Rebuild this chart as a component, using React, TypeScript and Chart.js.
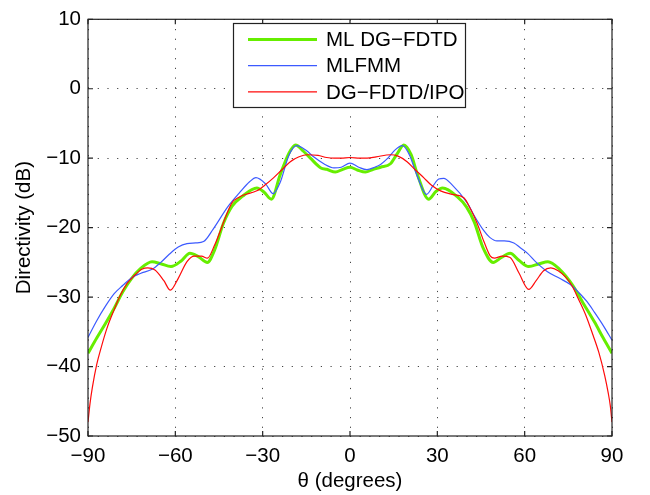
import React, { useEffect, useRef } from "react";
import { Chart, registerables } from "chart.js";

Chart.register(...registerables);

// ---- data ----
const seriesNames = ["ML DG\u2212FDTD", "MLFMM", "DG\u2212FDTD/IPO"];

const greenTheta = [-90,-87,-84,-81,-78,-75,-72,-68,-65,-61.5,-58,-55,-52,-49,-46.5,-43.5,-40.5,-37,-32,-29.5,-27,-24,-21,-18.7,-16,-13.6,-10,-8,-5,-2.5,0,2.5,5.3,8,10.5,13.9,16,18.5,21,23.2,27,29.5,31.8,37,40,42.7,45.8,49.2,52,55,58,61.4,65,68,72,76.5,80,84,87,90];
const greenDir = [-38.1,-35.9,-33.8,-31.6,-29.2,-27.3,-25.9,-24.9,-25.2,-25.6,-24.8,-23.7,-24.2,-25.0,-23.2,-19.4,-16.9,-15.5,-14.3,-14.9,-15.9,-12.4,-9.3,-8.1,-9.0,-10.0,-11.4,-11.6,-12.0,-11.6,-11.3,-11.7,-12.0,-11.6,-11.3,-10.8,-9.5,-8.1,-9.5,-12.4,-15.9,-14.8,-14.3,-15.6,-17.0,-19.2,-23.0,-25.0,-24.3,-23.7,-24.7,-25.6,-25.2,-24.9,-26.0,-28.3,-30.8,-33.6,-35.9,-38.1];

const blueTheta = [-90,-87,-84,-81,-78,-75,-72,-68,-65,-62,-59,-56,-53,-50.3,-47,-42,-38,-34.5,-32.3,-29,-26.4,-24,-21,-18.3,-15,-12.5,-9,-5.5,-3,0,3,5.8,8.5,10.5,13,15.5,18,20.5,22.5,26.3,28.5,30.5,32.2,35,40.2,43,45.9,48,50.5,53,56.3,58.5,61,64,67.7,72,75.7,78.5,81.5,84,87,90];
const blueDir = [-35.8,-33.4,-31.3,-29.5,-28.3,-27.2,-26.6,-26.0,-25.0,-23.8,-22.8,-22.3,-22.2,-22.0,-20.2,-17.0,-15.0,-13.4,-12.8,-13.7,-15.1,-13.5,-9.6,-8.2,-8.9,-9.8,-10.8,-11.4,-11.3,-10.7,-11.3,-11.65,-11.3,-10.9,-10.0,-8.8,-8.2,-9.6,-11.9,-15.2,-14.0,-13.0,-12.9,-13.8,-16.4,-18.5,-20.4,-21.4,-21.9,-21.9,-22.2,-22.9,-23.7,-25.0,-26.3,-27.3,-28.2,-29.3,-30.7,-32.2,-34.1,-36.2];

const redTheta = [-90,-89.3,-88.5,-87,-85.5,-83.5,-81,-79,-76.5,-74.3,-71.5,-69.5,-67,-64,-61.7,-59,-56,-53.5,-51,-49,-46.5,-44.5,-42.5,-40.5,-38,-36.5,-32,-29,-26.2,-23.5,-20.5,-17.5,-14.7,-11,-8,-5.5,-3,0,3.3,5.9,9,13.9,16.5,19.6,22.5,25.3,28,31.1,35,39.1,41.5,43.7,46,48.2,49.6,52.3,55,58,61.4,64,66.5,69,71.5,74,76.3,78.5,81,83.5,85.5,87.5,88.7,89.4,90];
const redDir = [-48.0,-45.3,-43.0,-39.7,-37.3,-34.5,-31.8,-29.8,-28.0,-27.0,-26.0,-25.8,-26.1,-27.6,-29.0,-27.3,-24.9,-24.1,-24.1,-24.4,-22.5,-20.4,-18.2,-16.4,-15.6,-15.3,-14.7,-13.8,-12.8,-11.7,-10.5,-9.8,-9.5,-9.6,-9.9,-10.0,-10.0,-9.9,-10.0,-10.0,-9.8,-9.5,-9.7,-10.5,-11.7,-12.8,-13.9,-14.7,-15.2,-15.7,-17.4,-19.4,-22.0,-24.1,-24.4,-24.1,-24.3,-26.5,-28.9,-27.6,-26.2,-25.8,-26.2,-27.1,-28.4,-30.3,-32.6,-35.5,-38.0,-41.3,-43.8,-45.6,-48.0];

const xTickValues = [-90, -60, -30, 0, 30, 60, 90];
const yTickValues = [-50, -40, -30, -20, -10, 0, 10];
const xTitle = "\u03b8 (degrees)";
const yTitle = "Directivity (dB)";

// ---- styles ----
const FONT = "'Liberation Sans', Arial, Helvetica, sans-serif";
const FS = 20.5;
const colors = ["#66ee00", "#3c5aff", "#ff0a0a"];
const widths = [3, 1.2, 1.2];

const toPts = (xs: number[], ys: number[]) => xs.map((x, i) => ({ x, y: ys[i] }));
const fmt = (v: number) => String(v).replace("-", "\u2212");

const framePlugin = {
  id: "frame",
  afterDraw(chart: any) {
    const { ctx, chartArea: a, scales } = chart;
    const xs = scales.x, ys = scales.y;
    ctx.save();
    ctx.strokeStyle = "#222";
    ctx.lineWidth = 1.2;
    ctx.strokeRect(a.left, a.top, a.right - a.left, a.bottom - a.top);
    const tl = 5;
    ctx.beginPath();
    xTickValues.forEach((v) => {
      const px = xs.getPixelForValue(v);
      ctx.moveTo(px, a.bottom); ctx.lineTo(px, a.bottom - tl);
      ctx.moveTo(px, a.top); ctx.lineTo(px, a.top + tl);
    });
    yTickValues.forEach((v) => {
      const py = ys.getPixelForValue(v);
      ctx.moveTo(a.left, py); ctx.lineTo(a.left + tl, py);
      ctx.moveTo(a.right, py); ctx.lineTo(a.right - tl, py);
    });
    ctx.stroke();

    // legend
    const bx = 233.5, by = 23.5, bw = 232, bh = 84;
    ctx.fillStyle = "#fff";
    ctx.fillRect(bx, by, bw, bh);
    ctx.strokeStyle = "#222";
    ctx.lineWidth = 1.2;
    ctx.strokeRect(bx, by, bw, bh);
    ctx.font = `${FS}px ${FONT}`;
    ctx.textBaseline = "middle";
    ctx.textAlign = "left";
    chart.data.datasets.forEach((ds: any, i: number) => {
      const y = by + 16 + i * 26.2;
      ctx.beginPath();
      ctx.strokeStyle = ds.borderColor;
      ctx.lineWidth = ds.borderWidth;
      ctx.moveTo(bx + 14.5, y);
      ctx.lineTo(bx + 83.5, y);
      ctx.stroke();
      ctx.fillStyle = "#000";
      ctx.fillText(ds.label, bx + 92.5, y + 1);
    });
    ctx.restore();
  },
};

export default function App() {
  const ref = useRef<HTMLCanvasElement | null>(null);
  useEffect(() => {
    if (!ref.current) return;
    const chart = new Chart(ref.current, {
      type: "line",
      data: {
        datasets: [
          { label: seriesNames[0], data: toPts(greenTheta, greenDir), borderColor: colors[0], borderWidth: widths[0], order: 3 },
          { label: seriesNames[1], data: toPts(blueTheta, blueDir), borderColor: colors[1], borderWidth: widths[1], order: 2 },
          { label: seriesNames[2], data: toPts(redTheta, redDir), borderColor: colors[2], borderWidth: widths[2], order: 1 },
        ].map((d) => ({ ...d, pointRadius: 0, fill: false, cubicInterpolationMode: "monotone" as const })),
      },
      options: {
        responsive: false,
        animation: false,
        events: [],
        layout: { padding: { top: 13, right: 38, left: 0, bottom: 0 } },
        plugins: { legend: { display: false }, tooltip: { enabled: false } },
        scales: {
          x: {
            type: "linear",
            min: -90,
            max: 90,
            afterBuildTicks: (s: any) => { s.ticks = xTickValues.map((v) => ({ value: v })); },
            afterFit: (s: any) => { s.height = 59; },
            ticks: { padding: 8, color: "#000", font: { family: FONT, size: FS }, callback: (v: any) => fmt(v), maxRotation: 0, autoSkip: false },
            grid: { color: "#444", lineWidth: 1, drawTicks: false },
            border: { display: false, dash: [1.2, 8.5] },
            title: { display: true, text: xTitle, color: "#000", font: { family: FONT, size: FS }, padding: { top: 0, bottom: 1 } },
          },
          y: {
            type: "linear",
            min: -50,
            max: 10,
            afterBuildTicks: (s: any) => { s.ticks = yTickValues.map((v) => ({ value: v })); },
            afterFit: (s: any) => { s.width = 88; },
            ticks: { padding: 7, color: "#000", font: { family: FONT, size: FS }, callback: (v: any) => fmt(v), autoSkip: false },
            grid: { color: "#444", lineWidth: 1, drawTicks: false },
            border: { display: false, dash: [1.2, 8.5] },
            title: { display: true, text: yTitle, color: "#000", font: { family: FONT, size: FS }, padding: { top: 12, bottom: 0 } },
          },
        },
      },
      plugins: [framePlugin],
    });
    return () => chart.destroy();
  }, []);
  return (
    <div style={{ position: "fixed", left: 0, top: 0, width: 650, height: 495, background: "#fff" }}>
      <canvas ref={ref} width={650} height={495} />
    </div>
  );
}
